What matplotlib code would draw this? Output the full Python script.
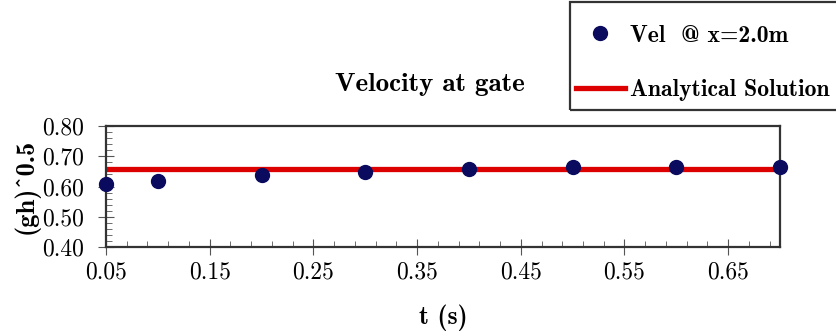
import numpy as np
import matplotlib
matplotlib.use('Agg')
import matplotlib.pyplot as plt
from matplotlib.patches import Rectangle
from matplotlib.ticker import FixedLocator, FormatStrFormatter

plt.rcParams['font.family'] = ['cmr10', 'DejaVu Serif']
plt.rcParams['axes.formatter.use_mathtext'] = True
plt.rcParams['axes.unicode_minus'] = False

# data
t = [0.05, 0.10, 0.20, 0.30, 0.40, 0.50, 0.60, 0.70]
vel = [0.608, 0.617, 0.638, 0.649, 0.657, 0.664, 0.665, 0.665]
analytical = 0.658
xticks = [0.05, 0.15, 0.25, 0.35, 0.45, 0.55, 0.65]
yticks = [0.40, 0.50, 0.60, 0.70, 0.80]

fig = plt.figure(figsize=(8.36, 3.34), dpi=100)
ax = fig.add_axes([106/836, 1-247/334, (780-106)/836, (247-126)/334])

bold = ['cmb10', 'DejaVu Serif']

ax.plot(t, vel, 'o', color='#0a0a5e', markersize=10, label='Vel  @ x=2.0m', zorder=3, clip_on=False)
ax.axhline(analytical, color='#dd0000', lw=3.8, label='Analytical Solution', zorder=2)

ax.set_xlim(0.05, 0.70)
ax.set_ylim(0.40, 0.80)
ax.xaxis.set_major_locator(FixedLocator(xticks))
ax.xaxis.set_minor_locator(FixedLocator(np.arange(0.05, 0.70, 0.02)))
ax.yaxis.set_major_locator(FixedLocator(yticks))
ax.yaxis.set_minor_locator(FixedLocator(np.arange(0.40, 0.80, 0.02)))
ax.xaxis.set_major_formatter(FormatStrFormatter('%.2f'))
ax.yaxis.set_major_formatter(FormatStrFormatter('%.2f'))
ax.tick_params(which='major', direction='inout', length=11, width=0.8, labelsize=17, color='#555555')
ax.tick_params(which='minor', direction='in', length=4.5, width=0.6, color='#555555')
ax.tick_params(axis='x', pad=5)
ax.tick_params(axis='y', pad=10)
for sp in ax.spines.values():
    sp.set_linewidth(1.6)
    sp.set_color('#333333')

ax.set_xlabel('t (s)', family=bold, size=18.5, labelpad=15)
ax.set_ylabel('(gh)^0.5', family=bold, size=19, labelpad=2)
fig.text(430/836, 1-84/334, 'Velocity at gate', family=bold, size=19.5, ha='center', va='center')

# legend box runs past the right edge of the figure
fig.patches.append(Rectangle((570/836, 1-110/334), 300/836, 108/334, transform=fig.transFigure,
                             fill=False, edgecolor='#333333', lw=1.6))
leg = fig.legend(loc='upper left', bbox_to_anchor=(571/836, 1-20/334), prop={'family': bold, 'size': 17},
                 frameon=False, borderpad=0.2, labelspacing=1.37,
                 handlelength=2.08, handletextpad=0.2, borderaxespad=0, numpoints=1)

fig.savefig('out.png', dpi=100)
